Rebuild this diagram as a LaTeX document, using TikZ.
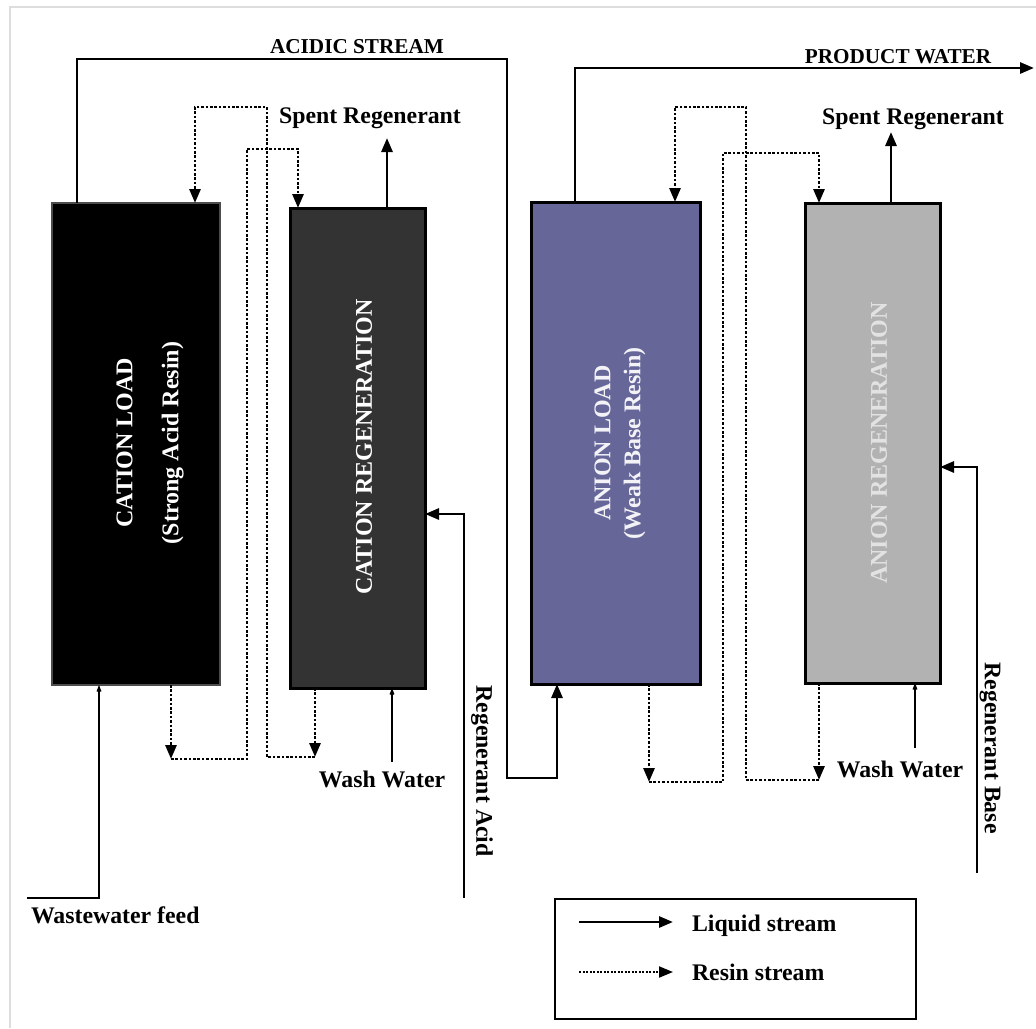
\documentclass[tikz,border=0pt]{standalone}
\usepackage{fontspec}
\setmainfont{Liberation Serif}
\usetikzlibrary{arrows.meta}
\definecolor{regcat}{HTML}{333333}
\definecolor{loadan}{HTML}{666699}
\definecolor{regan}{HTML}{B2B2B2}
\definecolor{regantxt}{HTML}{E2E2E2}
\definecolor{framegray}{HTML}{DDDDDD}

\begin{document}
\begin{tikzpicture}[x=1pt,y=-1pt,
  every node/.style={inner sep=0pt, outer sep=0pt},
  vessel/.style={draw=black, line width=3pt, inner sep=0pt, outer sep=0pt},
  flow/.style={line width=2.8pt},
  tip/.style={-{Triangle[length=14pt,width=11pt]}},
  thintip/.style={-{Stealth[length=13pt,width=10pt,inset=9pt]}},
  resin/.style={line width=2.8pt, dash pattern=on 2.6pt off 1.8pt},
  lbl/.style={font=\fontsize{23.8}{28}\selectfont\bfseries},
  caplbl/.style={font=\fontsize{21.2}{25}\selectfont\bfseries},
  boxtxt/.style={font=\fontsize{24}{30}\selectfont\bfseries, align=center}
]
\useasboundingbox (0,0) rectangle (1036,1028);
\fill[white] (0,0) rectangle (1036,1028);
\draw[framegray, line width=2pt] (10,1028) -- (10,7) -- (1036,7);

% columns
\node[vessel, draw=black!70, line width=1.2pt, fill=black, minimum width=168, minimum height=482] (b1) at (136,444) {};
\node[vessel, fill=regcat, minimum width=135, minimum height=480] (b2) at (357.5,448) {};
\node[vessel, fill=loadan, minimum width=169, minimum height=482] (b3) at (615.5,443) {};
\node[vessel, fill=regan, minimum width=135, minimum height=480] (b4) at (872.5,443) {};

\node[boxtxt, text=white, rotate=90, font=\fontsize{24}{46}\selectfont\bfseries] (t1) at (150,443) {CATION LOAD\\(Strong Acid Resin)};
\node[boxtxt, text=white, rotate=90] (t2) at (364,447) {CATION REGENERATION};
\node[boxtxt, text=white!92!loadan, rotate=90] (t3) at (620,443) {ANION LOAD\\(Weak Base Resin)};
\node[boxtxt, text=regantxt, rotate=90] (t4) at (879,443) {ANION REGENERATION};

% acidic stream from cation load to anion load
\coordinate (acA) at (77,59);
\coordinate (acB) at (507,59);
\coordinate (acC) at (507,778);
\coordinate (acD) at (557,778);
\draw[flow,tip] (acA |- b1.north) -- (acA) -- (acB) -- (acC) -- (acD) -- (acD |- b3.south);
\node[caplbl, anchor=base] (acidlbl) at (357,53) {ACIDIC STREAM};

% product water
\coordinate (pwA) at (575,68);
\coordinate (pwEnd) at (1034,68);
\draw[flow,tip] (pwA |- b3.north) -- (pwA) -- (pwEnd);
\node[caplbl, anchor=base] (pwlbl) at (898,63) {PRODUCT WATER};

% spent regenerant outlets
\coordinate (sp1) at (387,138);
\draw[flow,tip] (sp1 |- b2.north) -- (sp1);
\node[lbl, anchor=base] (sp1lbl) at (370,123) {Spent Regenerant};
\coordinate (sp2) at (891,132);
\draw[flow,tip] (sp2 |- b4.north) -- (sp2);
\node[lbl, anchor=base] (sp2lbl) at (913,124) {Spent Regenerant};

% wash water inlets
\coordinate (ww1) at (392,762);
\draw[flow,thintip] (ww1) -- (ww1 |- b2.south);
\node[lbl, anchor=base] (ww1lbl) at (382,787) {Wash Water};
\coordinate (ww2) at (915,748);
\draw[flow,thintip] (ww2) -- (ww2 |- b4.south);
\node[lbl, anchor=base] (ww2lbl) at (900,777) {Wash Water};

% wastewater feed
\coordinate (feedA) at (27,898);
\coordinate (feedB) at (99,898);
\draw[flow,thintip] (feedA) -- (feedB) -- (feedB |- b1.south);
\node[lbl, anchor=base west] (feedlbl) at (31,923) {Wastewater feed};

% regenerant acid
\coordinate (raA) at (464,898);
\coordinate (raB) at (464,514);
\draw[flow,tip] (raA) -- (raB) -- (raB -| b2.east);
\node[lbl, rotate=-90] (ralbl) at (482,771) {Regenerant Acid};

% regenerant base
\coordinate (rbA) at (977,873);
\coordinate (rbB) at (977,467);
\draw[flow,tip] (rbA) -- (rbB) -- (rbB -| b4.east);
\node[lbl, rotate=-90] (rblbl) at (990,748) {Regenerant Base};

% cation resin loop
\coordinate (r1a) at (171,759);
\coordinate (r1c) at (247,759);
\coordinate (r1d) at (247,149);
\coordinate (r1e) at (298,149);
\draw[resin,tip] (r1a |- b1.south) -- (r1a);
\draw[resin,tip] (r1a) -- (r1c) -- (r1d) -- (r1e) -- (r1e |- b2.north);
\coordinate (r2a) at (315,757);
\coordinate (r2c) at (267,757);
\coordinate (r2d) at (267,107);
\coordinate (r2e) at (195,107);
\draw[resin,tip] (r2a |- b2.south) -- (r2a);
\draw[resin,tip] (r2a) -- (r2c) -- (r2d) -- (r2e) -- (r2e |- b1.north);

% anion resin loop
\coordinate (a1a) at (649,782);
\coordinate (a1c) at (723,782);
\coordinate (a1d) at (723,153);
\coordinate (a1e) at (819,153);
\draw[resin,tip] (a1a |- b3.south) -- (a1a);
\draw[resin,tip] (a1a) -- (a1c) -- (a1d) -- (a1e) -- (a1e |- b4.north);
\coordinate (a2a) at (819,780);
\coordinate (a2c) at (746,780);
\coordinate (a2d) at (746,107);
\coordinate (a2e) at (675,107);
\draw[resin,tip] (a2a |- b4.south) -- (a2a);
\draw[resin,tip] (a2a) -- (a2c) -- (a2d) -- (a2e) -- (a2e |- b3.north);

% legend
\node[draw, line width=2.4pt, minimum width=361, minimum height=120] (legend) at (735.5,959) {};
\coordinate (lgA) at (579,922);
\coordinate (lgB) at (673,922);
\coordinate (lgC) at (579,972);
\coordinate (lgD) at (673,972);
\draw[flow,tip] (lgA) -- (lgB);
\draw[resin,line width=2pt,dash pattern=on 2pt off 1.5pt,tip] (lgC) -- (lgD);
\node[lbl, anchor=base west] (lg1) at (692,931) {Liquid stream};
\node[lbl, anchor=base west] (lg2) at (692,980) {Resin stream};
\end{tikzpicture}
\end{document}
